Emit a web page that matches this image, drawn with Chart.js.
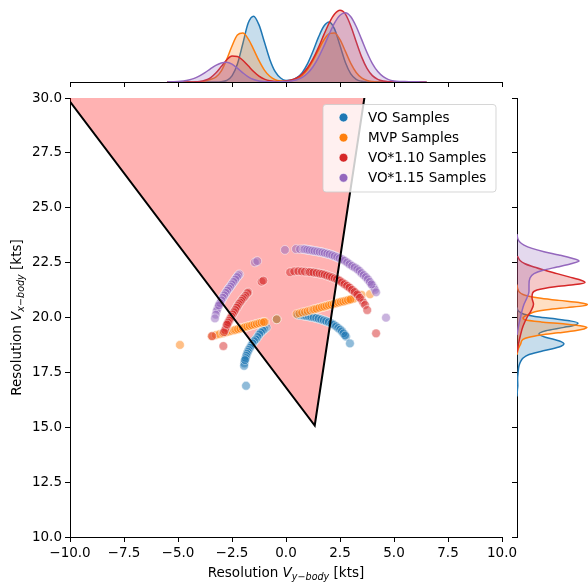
<!DOCTYPE html>
<html>
<head>
<meta charset="utf-8">
<script src="https://cdn.jsdelivr.net/npm/chart.js@4.4.0/dist/chart.umd.min.js"></script>
<style>
  body { margin: 0; background: #fff; }
  #wrap { position: relative; width: 588px; height: 582px; }
  canvas { position: absolute; }
</style>
</head>
<body>
<div id="wrap">
  <canvas id="main" width="588" height="582" style="left:0;top:0"></canvas>
  <canvas id="top" width="588" height="98" style="left:0;top:0"></canvas>
  <canvas id="right" width="86" height="582" style="left:502px;top:0"></canvas>
</div>
<script>
// scatter samples
const voX = [0.55, 0.65, 0.75, 0.88, 1.0, 1.11, 1.22, 1.34, 1.45, 1.57, 1.69, 1.81, 1.92, 2.04, 2.15, 2.27, 2.37, 2.47, 2.55, 2.62, 2.70, 2.78, 2.96,
  -0.90, -0.97, -1.05, -1.12, -1.20, -1.28, -1.36, -1.44, -1.51, -1.58, -1.64, -1.70, -1.75, -1.79, -1.82, -1.85, -1.88, -1.91, -1.93, -1.94, -1.85, -0.43,
  0.82, 0.94, 1.06, 1.17, 1.28, 1.40, 1.51, 1.63, 1.75, 1.86, 1.98, 2.10, 2.21, 2.32, 2.42, 2.51, 2.59, 2.66, 2.74,
  -1.01, -1.08, -1.16, -1.24, -1.32, -1.40, -1.48, -1.55, -1.61, -1.67, -1.73, -1.77, -1.81, -1.84, -1.87, -1.90];
const voY = [20.12, 20.11, 20.10, 20.08, 20.06, 20.04, 20.02, 19.99, 19.96, 19.93, 19.89, 19.85, 19.81, 19.76, 19.70, 19.63, 19.56, 19.48, 19.41, 19.33, 19.23, 19.13, 18.82,
  19.54, 19.49, 19.43, 19.36, 19.28, 19.17, 19.05, 18.96, 18.87, 18.77, 18.67, 18.57, 18.47, 18.38, 18.29, 18.20, 18.11, 18.01, 17.91, 17.80, 16.89, 19.92,
  20.09, 20.07, 20.05, 20.03, 20.01, 19.98, 19.95, 19.91, 19.87, 19.83, 19.79, 19.73, 19.67, 19.60, 19.52, 19.45, 19.37, 19.28, 19.18,
  19.46, 19.40, 19.32, 19.23, 19.11, 19.00, 18.92, 18.82, 18.72, 18.62, 18.52, 18.43, 18.34, 18.25, 18.15, 18.06];

const mvpX = [-4.91, -3.44, -3.25, -3.08, -2.92, -2.78, -2.65, -2.52, -2.40, -2.28, -2.17, -2.06, -1.95, -1.85, -1.74, -1.63, -1.52, -1.41, -1.30, -1.19, -1.08, -0.97, -0.43,
  0.49, 0.62, 0.75, 0.88, 1.0, 1.12, 1.24, 1.36, 1.48, 1.60, 1.71, 1.82, 1.93, 2.04, 2.15, 2.26, 2.37, 2.48, 2.59, 2.70, 2.81, 2.92, 3.03, 3.14, 3.50, 3.89,
  1.30, 1.42, 1.54, 1.66, 1.77, 1.88, 1.99, 2.10, 2.21, 2.32, 2.43, 2.54, 2.65, 2.76, 2.87, 2.98,
  -2.34, -2.22, -2.11, -2.00, -1.90, -1.79, -1.68, -1.57, -1.46, -1.35, -1.24, -1.13, -1.02];
const mvpY = [18.75, 19.15, 19.20, 19.24, 19.28, 19.32, 19.36, 19.39, 19.42, 19.45, 19.48, 19.51, 19.54, 19.57, 19.60, 19.63, 19.66, 19.69, 19.72, 19.75, 19.78, 19.80, 19.92,
  20.16, 20.19, 20.23, 20.26, 20.29, 20.32, 20.36, 20.39, 20.42, 20.45, 20.48, 20.51, 20.54, 20.57, 20.60, 20.63, 20.66, 20.69, 20.72, 20.74, 20.77, 20.80, 20.83, 20.86, 21.03, 21.06,
  20.37, 20.40, 20.44, 20.47, 20.50, 20.53, 20.56, 20.59, 20.62, 20.65, 20.68, 20.71, 20.73, 20.76, 20.79, 20.82,
  19.44, 19.47, 19.50, 19.53, 19.56, 19.59, 19.62, 19.65, 19.68, 19.71, 19.74, 19.77, 19.79];

const vo110X = [-1.75, -1.80, -1.85, -1.92, -1.98, -2.04, -2.10, -2.16, -2.21, -2.26, -2.31, -2.38, -2.44, -2.50, -2.55, -2.60, -2.65, -2.70, -2.75, -2.78, -2.82, -2.87, -2.90, -3.42, -1.13, -1.05,
  0.19, 0.38, 0.57, 0.73, 0.88, 1.04, 1.19, 1.34, 1.50, 1.62, 1.73, 1.85, 1.96, 2.08, 2.19, 2.30, 2.42, 2.53, 2.65, 2.77, 2.88, 3.00, 3.12, 3.24, 3.35, 3.50, 3.58, 3.66, 3.76, 4.17,
  1.11, 1.27, 1.42, 1.56, 1.68, 1.79, 1.90, 2.02, 2.13, 2.25, 2.36, 2.48, 2.59, 2.71, 2.83, 2.94, 3.06, 3.18, 3.30, 3.42,
  -1.78, -1.88, -1.95, -2.01, -2.07, -2.13, -2.19, -2.24, -2.29, -2.35, -2.41, -2.47, -2.53, -2.58, -2.63, -2.68, -2.73];
const vo110Y = [21.15, 21.09, 21.03, 20.95, 20.87, 20.80, 20.72, 20.64, 20.57, 20.48, 20.39, 20.29, 20.19, 20.09, 19.99, 19.90, 19.81, 19.72, 19.63, 19.53, 19.43, 19.33, 18.70, 19.15, 21.63, 21.68,
  22.06, 22.10, 22.11, 22.10, 22.09, 22.08, 22.06, 22.04, 22.01, 21.99, 21.97, 21.93, 21.89, 21.85, 21.81, 21.76, 21.71, 21.64, 21.56, 21.48, 21.40, 21.31, 21.21, 21.10, 20.99, 20.80, 20.68, 20.57, 20.34, 19.28,
  22.07, 22.05, 22.03, 22.00, 21.98, 21.95, 21.91, 21.87, 21.83, 21.78, 21.74, 21.68, 21.60, 21.52, 21.44, 21.36, 21.26, 21.16, 21.05, 20.90,
  21.12, 20.99, 20.91, 20.84, 20.76, 20.68, 20.61, 20.52, 20.44, 20.34, 20.24, 20.14, 20.04, 19.95, 19.86, 19.77, 19.68];

const vo115X = [-2.16, -2.23, -2.31, -2.39, -2.47, -2.54, -2.62, -2.68, -2.75, -2.82, -2.90, -2.96, -3.02, -3.08, -3.13, -3.17, -3.21, -3.25, -3.29, -1.44, -1.33,
  -0.05, 0.46, 0.65, 0.80, 0.92, 1.03, 1.15, 1.26, 1.38, 1.50, 1.62, 1.73, 1.85, 1.96, 2.08, 2.19, 2.31, 2.42, 2.54, 2.65, 2.77, 2.88, 3.00, 3.12, 3.24, 3.35, 3.45, 3.55, 3.65, 3.74, 3.83, 3.92, 4.00, 4.07, 4.12, 4.17, 4.63,
  0.86, 0.98, 1.09, 1.21, 1.32, 1.44, 1.56, 1.68, 1.79, 1.91, 2.02, 2.14, 2.25, 2.37, 2.48, 2.60, 2.71, 2.83, 2.94, 3.06, 3.18, 3.30, 3.40, 3.50, 3.60, 3.70, 3.79, 3.88, 3.96,
  -2.20, -2.27, -2.35, -2.43, -2.51, -2.58, -2.65, -2.72, -2.79, -2.86, -2.93, -2.99, -3.05, -3.11];
const vo115Y = [21.97, 21.88, 21.79, 21.67, 21.56, 21.46, 21.36, 21.27, 21.18, 21.06, 20.95, 20.84, 20.72, 20.60, 20.49, 20.40, 20.30, 20.13, 19.96, 22.51, 22.57,
  23.08, 23.12, 23.11, 23.11, 23.10, 23.08, 23.06, 23.04, 23.02, 23.00, 22.98, 22.95, 22.92, 22.89, 22.86, 22.82, 22.77, 22.72, 22.67, 22.62, 22.55, 22.47, 22.39, 22.31, 22.24, 22.16, 22.07, 21.97, 21.88, 21.79, 21.68, 21.56, 21.46, 21.36, 21.26, 21.15, 19.99,
  23.11, 23.09, 23.07, 23.05, 23.03, 23.01, 22.99, 22.97, 22.94, 22.91, 22.88, 22.84, 22.80, 22.75, 22.70, 22.65, 22.59, 22.51, 22.43, 22.35, 22.28, 22.20, 22.12, 22.02, 21.93, 21.84, 21.74, 21.62, 21.51,
  21.93, 21.84, 21.73, 21.62, 21.51, 21.41, 21.32, 21.23, 21.12, 21.01, 20.90, 20.78, 20.66, 20.55];

// velocity obstacle cone (apex + far corners beyond the axes)
const coneX = [-12.43, 1.33, 4.09, -12.43];
const coneY = [33, 15.08, 33, 33];

// top marginal density (px heights)
const topX = [-5.5, -5.25, -5, -4.75, -4.5, -4.25, -4, -3.75, -3.5, -3.25, -3, -2.75, -2.5, -2.25, -2, -1.75, -1.5, -1.25, -1, -0.75, -0.5, -0.25,
  0, 0.25, 0.5, 0.75, 1, 1.25, 1.5, 1.75, 2, 2.25, 2.5, 2.75, 3, 3.25, 3.5, 3.75, 4, 4.25, 4.5, 4.75, 5, 5.25, 5.5, 5.75, 6, 6.25, 6.5];
const topBlue = [0, 0, 0, 0, 0, 0, 0, 0, 0, 0, 0.3, 1.5, 6.1, 18.0, 38.2, 58.9, 65.8, 57.1, 40.0, 22.6, 10.3, 4.0,
  1.6, 1.9, 4.3, 9.4, 18.4, 30.8, 44.6, 55.7, 60.0, 52.9, 36.4, 19.5, 8.1, 2.6, 0.7, 0.1, 0, 0, 0, 0, 0, 0, 0, 0, 0, 0, 0];
const topOrange = [0, 0, 0, 0, 0, 0.1, 0.3, 1.0, 2.5, 4.8, 10.9, 22.2, 36.0, 46.9, 48.9, 43.2, 32.7, 21.3, 11.9, 5.7, 2.3, 1.0,
  0.7, 1.3, 3.0, 6.5, 12.6, 21.3, 31.9, 41.9, 48.4, 49.1, 42.3, 30.6, 18.6, 9.5, 4.1, 1.5, 0.5, 0.1, 0, 0, 0, 0, 0, 0, 0, 0, 0];
const topRed = [0, 0, 0, 0, 0, 0.1, 0.5, 1.7, 4.2, 8.9, 15.4, 22.0, 26.0, 25.6, 21.8, 16.2, 10.5, 5.9, 2.9, 1.2, 0.6, 0.5,
  0.9, 2.0, 4.1, 8.0, 14.2, 23.1, 34.4, 47.1, 59.0, 67.9, 71.7, 67.9, 56.1, 40.2, 25.1, 13.6, 6.4, 2.7, 1.0, 0.3, 0.1, 0, 0, 0, 0, 0, 0];
const topPurple = [0.1, 0.2, 0.4, 1.0, 2.0, 3.6, 6.2, 9.4, 13.1, 16.6, 19.0, 19.7, 17.8, 13.8, 9.2, 5.2, 2.5, 1.0, 0.4, 0.2, 0.1, 0.2,
  0.4, 1.0, 2.2, 4.6, 8.7, 15.2, 24.3, 35.6, 47.9, 59.1, 66.8, 69.3, 65.3, 55.5, 42.6, 29.5, 18.4, 10.4, 5.3, 2.4, 1.0, 0.5, 0.4, 0.3, 0.2, 0.1, 0];

// right marginal density (px widths)
const rightBlueY = [16.4, 16.7, 16.9, 17.2, 17.5, 17.8, 18.0, 18.15, 18.3, 18.45, 18.6, 18.7, 18.8, 18.9, 19.0, 19.1, 19.25, 19.4, 19.55, 19.65, 19.75, 19.85, 19.95, 20.05, 20.15, 20.3, 20.45];
const rightBlueV = [0, 0.4, 0.8, 0.6, 1.1, 2.0, 3.7, 6.0, 11.5, 23.8, 37.6, 44.5, 47.0, 44.1, 37.2, 28.4, 21.9, 28.9, 47.0, 57.5, 61.0, 52.5, 36.0, 18.0, 7.0, 1.3, 0];
const rightOrangeY = [18.3, 18.6, 18.8, 19.0, 19.1, 19.2, 19.3, 19.4, 19.48, 19.54, 19.6, 19.7, 19.8, 19.9, 19.98, 20.06, 20.15, 20.26, 20.35, 20.45, 20.53, 20.6, 20.68, 20.78, 20.88, 20.97, 21.05, 21.15, 21.3, 21.5];
const rightOrangeV = [0, 1.5, 3.7, 6, 12, 24, 41, 58, 67, 70, 66, 48, 24, 8, 6, 8, 12, 18, 30, 50, 66, 70.5, 62, 42, 24, 12, 6, 2.5, 0.8, 0];
const rightRedY = [18.4, 18.8, 19.2, 19.6, 20.0, 20.3, 20.6, 20.9, 21.1, 21.25, 21.4, 21.5, 21.6, 21.7, 21.85, 22.0, 22.15, 22.3, 22.45, 22.6, 22.8];
const rightRedV = [0, 1.5, 3.5, 6, 10, 14, 16.5, 15, 15.5, 20, 38, 58, 68, 64, 52, 40, 28, 17, 8, 3, 0.5];
const rightPurpleY = [19.2, 19.6, 20.0, 20.3, 20.6, 20.9, 21.2, 21.5, 21.8, 22.0, 22.15, 22.3, 22.45, 22.57, 22.7, 22.85, 23.0, 23.15, 23.3, 23.45, 23.6, 23.8];
const rightPurpleV = [0, 1.5, 3.5, 5, 7, 10, 12, 12, 13, 17, 26, 40, 54, 62, 55, 42, 27, 15, 7, 2.5, 0.8, 0];

const seriesNames = ["VO Samples", "MVP Samples", "VO*1.10 Samples", "VO*1.15 Samples"];
const xTicks = [-10, 10, 2.5];
const yTicks = [10, 30, 2.5];

const colors = ['#1f77b4', '#ff7f0e', '#d62728', '#9467bd'];
const fills = ['rgba(31,119,180,0.25)', 'rgba(255,127,14,0.25)', 'rgba(214,39,40,0.25)', 'rgba(148,103,189,0.25)'];
const pale = ['rgba(31,119,180,0.5)', 'rgba(255,127,14,0.5)', 'rgba(214,39,40,0.5)', 'rgba(148,103,189,0.5)'];
const FONT = '"DejaVu Sans"';

Chart.defaults.font.family = FONT;
Chart.defaults.color = '#000';

function pts(xs, ys) { return xs.map((x, i) => ({ x: x, y: ys[i] })); }
function fmt(v) { return (v < 0 ? '\u2212' : '') + Math.abs(v).toFixed(1); }

// axis label with math subscript
function mathLabel(ctx, cx, cy, sub, angle) {
  const big = 13.5, small = 9.6;
  const parts = [
    { t: 'Resolution ', f: big + 'px ' + FONT, dy: 0 },
    { t: 'V', f: 'italic ' + big + 'px ' + FONT, dy: 0 },
    { t: sub, f: 'italic ' + small + 'px ' + FONT, dy: 3 },
    { t: '\u2212', f: small + 'px ' + FONT, dy: 3 },
    { t: 'body', f: 'italic ' + small + 'px ' + FONT, dy: 3 },
    { t: ' [kts]', f: big + 'px ' + FONT, dy: 0 }
  ];
  ctx.save();
  let w = 0;
  parts.forEach(p => { ctx.font = p.f; p.w = ctx.measureText(p.t).width; w += p.w; });
  ctx.translate(cx, cy);
  ctx.rotate(angle);
  ctx.fillStyle = '#000';
  ctx.textBaseline = 'alphabetic';
  ctx.textAlign = 'left';
  let x = -w / 2;
  parts.forEach(p => { ctx.font = p.f; ctx.fillText(p.t, x, p.dy); x += p.w; });
  ctx.restore();
}

const decorPlugin = {
  id: 'decor',
  afterDraw(chart) {
    const ctx = chart.ctx;
    const a = chart.chartArea;
    mathLabel(ctx, (a.left + a.right) / 2, 576.5, 'y', 0);
    mathLabel(ctx, 20.5, (a.top + a.bottom) / 2, 'x', -Math.PI / 2);

    // legend box
    const bx = 323, by = 104.5, bw = 173, bh = 87.5, r = 3;
    ctx.save();
    ctx.beginPath();
    ctx.moveTo(bx + r, by);
    ctx.lineTo(bx + bw - r, by);
    ctx.arcTo(bx + bw, by, bx + bw, by + r, r);
    ctx.lineTo(bx + bw, by + bh - r);
    ctx.arcTo(bx + bw, by + bh, bx + bw - r, by + bh, r);
    ctx.lineTo(bx + r, by + bh);
    ctx.arcTo(bx, by + bh, bx, by + bh - r, r);
    ctx.lineTo(bx, by + r);
    ctx.arcTo(bx, by, bx + r, by, r);
    ctx.closePath();
    ctx.fillStyle = 'rgba(255,255,255,0.8)';
    ctx.fill();
    ctx.strokeStyle = 'rgba(204,204,204,0.8)';
    ctx.lineWidth = 1;
    ctx.stroke();
    ctx.font = '13.5px ' + FONT;
    ctx.textBaseline = 'middle';
    seriesNames.forEach((name, i) => {
      const yy = by + 13 + i * 20.1;
      ctx.beginPath();
      ctx.arc(343.5, yy, 4.4, 0, Math.PI * 2);
      ctx.fillStyle = colors[i];
      ctx.fill();
      ctx.strokeStyle = '#fff';
      ctx.lineWidth = 0.6;
      ctx.stroke();
      ctx.fillStyle = '#000';
      ctx.fillText(name, 368, yy + 1);
    });
    ctx.restore();
  }
};

const sampleSets = [pts(voX, voY), pts(mvpX, mvpY), pts(vo110X, vo110Y), pts(vo115X, vo115Y)];

const axisStyle = {
  grid: { display: true, drawOnChartArea: false, drawTicks: true, tickLength: 5, color: '#000', lineWidth: 1 },
  border: { display: true, color: '#000', width: 1 }
};

new Chart(document.getElementById('main'), {
  type: 'scatter',
  data: {
    datasets: [
      { type: 'line', data: pts(coneX, coneY), fill: 'shape', backgroundColor: 'rgba(255,0,0,0.3)',
        borderWidth: 0, borderColor: 'rgba(0,0,0,0)', pointRadius: 0, order: 10 },
      ...sampleSets.map((d, i) => ({
        label: seriesNames[i], data: d, backgroundColor: pale[i], borderColor: 'rgba(255,255,255,0.6)',
        borderWidth: 0.8, pointRadius: 4.4, order: 4 - i
      })),
      { type: 'line', data: pts(coneX, coneY), fill: false, borderColor: '#000', borderWidth: 2,
        pointRadius: 0, order: -1 }
    ]
  },
  options: {
    responsive: false, animation: false, devicePixelRatio: 1,
    layout: { padding: { left: 0, right: 86, top: 98, bottom: 0 } },
    plugins: { legend: { display: false }, tooltip: { enabled: false } },
    scales: {
      x: Object.assign({
        type: 'linear', min: xTicks[0], max: xTicks[1],
        ticks: { stepSize: xTicks[2], callback: fmt, font: { size: 13.5 }, padding: 3, maxRotation: 0, autoSkip: false },
        afterFit: s => { s.height = 45; }
      }, axisStyle),
      y: Object.assign({
        type: 'linear', min: yTicks[0], max: yTicks[1],
        ticks: { stepSize: yTicks[2], callback: fmt, font: { size: 13.5 }, padding: 3, autoSkip: false },
        afterFit: s => { s.width = 70; }
      }, axisStyle)
    }
  },
  plugins: [decorPlugin]
});

const topSeries = [topBlue, topOrange, topRed, topPurple];
new Chart(document.getElementById('top'), {
  type: 'line',
  data: {
    datasets: topSeries.map((vals, i) => ({
      data: pts(topX, vals), borderColor: colors[i], backgroundColor: fills[i], fill: 'origin',
      borderWidth: 1.5, pointRadius: 0, cubicInterpolationMode: 'monotone', order: 3 - i
    }))
  },
  options: {
    responsive: false, animation: false, devicePixelRatio: 1,
    layout: { padding: { left: 70, right: 86, top: 4, bottom: 0 } },
    plugins: { legend: { display: false }, tooltip: { enabled: false } },
    scales: {
      x: Object.assign({
        type: 'linear', min: xTicks[0], max: xTicks[1],
        ticks: { stepSize: xTicks[2], display: false, autoSkip: false },
        afterFit: s => { s.height = 16; }
      }, axisStyle),
      y: { type: 'linear', min: 0, max: 78, display: false }
    }
  }
});

const rightSeries = [[rightBlueY, rightBlueV], [rightOrangeY, rightOrangeV], [rightRedY, rightRedV], [rightPurpleY, rightPurpleV]];
new Chart(document.getElementById('right'), {
  type: 'line',
  data: {
    datasets: rightSeries.map((s, i) => ({
      data: pts(s[1], s[0]), borderColor: colors[i], backgroundColor: fills[i], fill: 'origin',
      borderWidth: 1.5, pointRadius: 0, cubicInterpolationMode: 'monotone', indexAxis: 'y', order: 3 - i
    }))
  },
  options: {
    indexAxis: 'y',
    responsive: false, animation: false, devicePixelRatio: 1,
    layout: { padding: { left: 0, right: 0, top: 98, bottom: 45 } },
    plugins: { legend: { display: false }, tooltip: { enabled: false } },
    scales: {
      x: { type: 'linear', min: 0, max: 71, display: false },
      y: Object.assign({
        type: 'linear', position: 'left', min: yTicks[0], max: yTicks[1],
        ticks: { stepSize: yTicks[2], display: false, autoSkip: false },
        afterFit: s => { s.width = 15; }
      }, axisStyle)
    }
  }
});
</script>
</body>
</html>
